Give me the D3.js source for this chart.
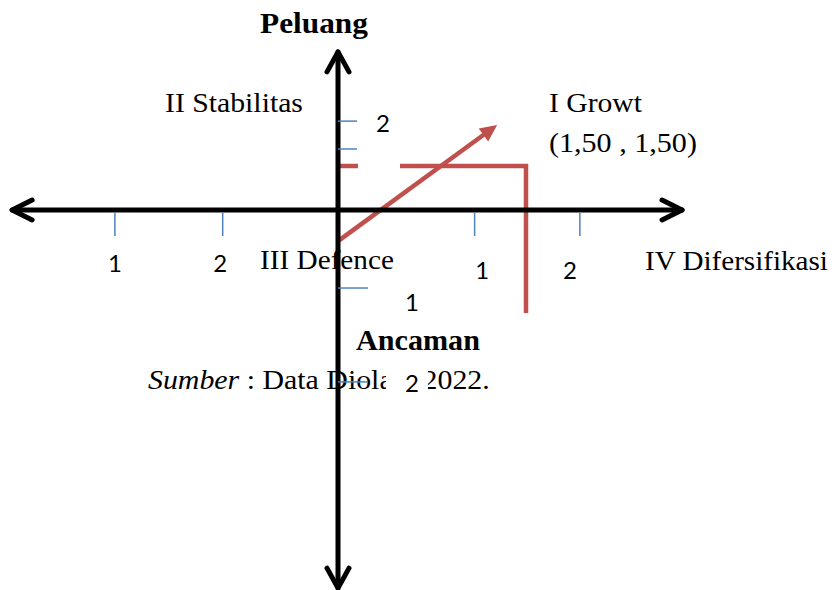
<!DOCTYPE html>
<html><head><meta charset="utf-8">
<script src="https://cdn.jsdelivr.net/npm/d3@7"></script>
<style>html,body{margin:0;padding:0;background:#fff}</style>
</head><body>
<svg id="c" width="837" height="590"></svg>
<script>
// ---- data ----
const strategyPoint = [1.50, 1.50];           // (x, y) position of the strategy point
const strategyLabel = "(1,50 , 1,50)";
const quadrantLabels = ["I Growt", "II Stabilitas", "III Defence", "IV Difersifikasi"];
const axisTitles = ["Peluang", "Ancaman"];
const sourceWord = "Sumber";
const sourceText = " : Data Diolah, 2022.";
const xAxisExtent = [-2.60, 2.745];
const yAxisExtent = [-12.89, 5.39];
const xTickValues = [-1.78, -0.92, 1.09, 1.93];
const xTickLabelAt = [-1.78, -0.94, 1.15, 1.85];
const xTickLabels = ["1", "2", "1", "2"];
const yTickValues = [3.03, 2.08, -2.66, -5.86];
const yTickLabelAt = [2.93, 2.08, -3.17, -5.93];
const yTickLabels = ["2", "", "1", "2"];
const verticalDrop = -3.51;                   // lower end of the red drop line
const arrowFrom = [0, -1.06];
const arrowTo = [1.27, 2.90];

// ---- scales ----
const x = d3.scaleLinear().domain([0, 1.5]).range([338, 526]);
const y = d3.scaleLinear().domain([0, 1.5]).range([210, 166]);

const svg = d3.select("#c");
const RED = "#c0504d", BLUE = "#4f81bd";
const serif = "'Liberation Serif', 'Times New Roman', serif";

// stretch a start-anchored text horizontally to a target width (emulates the wider original face)
function fitWidth(sel, x0, w) {
  const cur = sel.node().getComputedTextLength();
  const s = w / cur;
  sel.attr("transform", `translate(${x0},0) scale(${s},1) translate(${-x0},0)`);
}

// source note (under axes)
const src = svg.append("text").attr("x", 148).attr("y", 389)
  .attr("font-family", serif).attr("font-size", 28).attr("fill", "#000");
src.append("tspan").attr("font-style", "italic").text(sourceWord);
src.append("tspan").text(sourceText);
fitWidth(src, 148, 342);

// quadrant labels
const qPos = [[549, 112, 93], [165, 112, 138], [260, 269, 134], [645, 270, 183]];
svg.selectAll("text.q").data(quadrantLabels).join("text").attr("class", "q")
  .attr("x", (d, i) => qPos[i][0]).attr("y", (d, i) => qPos[i][1])
  .attr("font-family", serif).attr("font-size", 28).attr("fill", "#000").text(d => d)
  .each(function (d, i) { fitWidth(d3.select(this), qPos[i][0], qPos[i][2]); });
const sl = svg.append("text").attr("x", 549).attr("y", 152)
  .attr("font-family", serif).attr("font-size", 28).attr("fill", "#000").text(strategyLabel);
fitWidth(sl, 549, 148);

// axis titles
const t1 = svg.append("text").attr("x", 260).attr("y", 33)
  .attr("font-family", serif).attr("font-weight", "bold").attr("font-size", 29).text(axisTitles[0]);
fitWidth(t1, 260, 108);
const t2 = svg.append("text").attr("x", 356).attr("y", 350)
  .attr("font-family", serif).attr("font-weight", "bold").attr("font-size", 29).text(axisTitles[1]);
fitWidth(t2, 356, 124);

// red guide lines
svg.append("path")
  .attr("d", d3.line()([[x(0) + 2, y(strategyPoint[1])], [x(strategyPoint[0]), y(strategyPoint[1])], [x(strategyPoint[0]), y(verticalDrop)]]))
  .attr("fill", "none").attr("stroke", RED).attr("stroke-width", 4.5);

// red arrow
(function () {
  const x1 = x(arrowFrom[0]), y1 = y(arrowFrom[1]), x2 = x(arrowTo[0]), y2 = y(arrowTo[1]);
  const dx = x2 - x1, dy = y2 - y1, L = Math.hypot(dx, dy), ux = dx / L, uy = dy / L;
  const hl = 17, hw = 8;
  const bx = x2 - ux * hl, by = y2 - uy * hl;
  svg.append("line").attr("x1", x1).attr("y1", y1).attr("x2", bx + ux * 2).attr("y2", by + uy * 2)
    .attr("stroke", RED).attr("stroke-width", 4.5);
  svg.append("path").attr("d", `M${x2},${y2}L${bx - uy * hw},${by + ux * hw}L${bx + uy * hw},${by - ux * hw}Z`)
    .attr("fill", RED);
})();

// axes
const axisG = svg.append("g").attr("stroke", "#000").attr("stroke-width", 5)
  .attr("fill", "none").attr("stroke-linecap", "round").attr("stroke-linejoin", "round");
const x0 = x(xAxisExtent[0]), x1 = x(xAxisExtent[1]), yt = y(yAxisExtent[1]), yb = y(yAxisExtent[0]);
axisG.append("line").attr("x1", x0).attr("x2", x1).attr("y1", y(0)).attr("y2", y(0));
axisG.append("line").attr("x1", x(0)).attr("x2", x(0)).attr("y1", yt).attr("y2", yb);
axisG.append("path").attr("d", `M${x0 + 20},${y(0) - 10}L${x0},${y(0)}L${x0 + 20},${y(0) + 10}`);
axisG.append("path").attr("d", `M${x1 - 20},${y(0) - 10}L${x1},${y(0)}L${x1 - 20},${y(0) + 10}`);
axisG.append("path").attr("d", `M${x(0) - 11},${yt + 20}L${x(0)},${yt}L${x(0) + 11},${yt + 20}`);
axisG.append("path").attr("d", `M${x(0) - 11},${yb - 20}L${x(0)},${yb}L${x(0) + 11},${yb - 20}`);

// x ticks
svg.selectAll("line.xt").data(xTickValues).join("line").attr("class", "xt")
  .attr("x1", d => x(d)).attr("x2", d => x(d)).attr("y1", y(0) + 3).attr("y2", y(0) + 26)
  .attr("stroke", BLUE).attr("stroke-width", 1.5);
svg.selectAll("text.xl").data(xTickLabels).join("text").attr("class", "xl")
  .attr("x", (d, i) => x(xTickLabelAt[i])).attr("y", (d, i) => i < 2 ? 272 : 279)
  .attr("text-anchor", "middle").attr("font-family", "Lato, sans-serif").attr("font-size", 24).text(d => d);

// y ticks
const tickLen = [19, 19, 30, 30];
svg.selectAll("line.yt").data(yTickValues).join("line").attr("class", "yt")
  .attr("x1", x(0)).attr("x2", (d, i) => x(0) + tickLen[i]).attr("y1", d => y(d)).attr("y2", d => y(d))
  .attr("stroke", BLUE).attr("stroke-width", 1.5);
// label boxes (opaque, as in the original drawing)
const boxes = [[358, 104, 42, 68], null, [372, 290, 60, 28], [386, 362, 42, 40]];
yTickLabels.forEach((lab, i) => {
  if (!lab) return;
  const b = boxes[i];
  svg.append("rect").attr("x", b[0]).attr("y", b[1]).attr("width", b[2]).attr("height", b[3]).attr("fill", "#fff");
  svg.append("text").attr("x", i === 0 ? 383 : 412).attr("y", y(yTickLabelAt[i])).attr("dy", "0.35em")
    .attr("text-anchor", "middle").attr("font-family", "Lato, sans-serif").attr("font-size", 24).text(lab);
});
</script>
</body></html>
